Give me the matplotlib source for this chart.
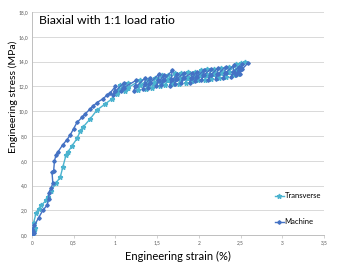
import matplotlib
matplotlib.use('Agg')
import matplotlib.pyplot as plt

plt.rcParams['font.family'] = ['Lato', 'DejaVu Sans']

# data (strain in %, stress in MPa)
machine_strain = [0.00, 0.01, 0.00, 0.02, 0.00, 0.03, 0.08, 0.13, 0.18, 0.20, 0.20, 0.23, 0.25,
                  0.24, 0.26, 0.27, 0.29, 0.31, 0.37, 0.42, 0.46, 0.50, 0.54, 0.60, 0.64, 0.70,
                  0.73, 0.78, 0.85, 0.90, 0.94,
                  1.00, 0.99, 0.97, 1.00, 1.10, 1.09, 1.07, 1.10, 1.25, 1.24, 1.22, 1.25,
                  1.36, 1.35, 1.33, 1.36, 1.42, 1.41, 1.39, 1.42, 1.52, 1.51, 1.49, 1.52,
                  1.58, 1.57, 1.55, 1.58, 1.68, 1.67, 1.65, 1.68, 1.74, 1.73, 1.71, 1.74,
                  1.82, 1.81, 1.79, 1.82, 1.92, 1.91, 1.89, 1.92, 1.98, 1.97, 1.95, 1.98,
                  2.06, 2.05, 2.03, 2.06, 2.14, 2.13, 2.11, 2.14, 2.23, 2.22, 2.20, 2.23,
                  2.32, 2.31, 2.29, 2.32, 2.42, 2.41, 2.39, 2.42, 2.48, 2.47, 2.45, 2.48,
                  2.52, 2.51, 2.49, 2.52, 2.59]
machine_stress = [0.0, 0.3, 0.5, 0.2, 0.4, 0.8, 1.4, 2.0, 2.4, 2.9, 3.4, 3.8, 4.2,
                  5.1, 5.2, 6.0, 6.5, 6.7, 7.3, 7.7, 8.1, 8.6, 9.1, 9.5, 9.8, 10.2,
                  10.4, 10.7, 11.0, 11.3, 11.5,
                  12.0, 11.6, 11.3, 11.6, 12.3, 11.9, 11.6, 11.9, 12.5, 12.0, 11.6, 12.0,
                  12.7, 12.2, 11.8, 12.2, 12.7, 12.3, 11.9, 12.3, 13.0, 12.5, 12.0, 12.4,
                  12.9, 12.5, 12.1, 12.5, 13.3, 12.6, 12.0, 12.5, 13.0, 12.6, 12.2, 12.6,
                  13.1, 12.7, 12.3, 12.7, 13.1, 12.7, 12.3, 12.7, 13.2, 12.8, 12.4, 12.8,
                  13.3, 12.9, 12.5, 12.9, 13.4, 12.9, 12.5, 12.9, 13.5, 13.0, 12.6, 13.0,
                  13.6, 13.1, 12.65, 13.1, 13.7, 13.2, 12.8, 13.2, 13.6, 13.2, 12.9, 13.3,
                  13.8, 13.4, 13.0, 13.4, 13.9]

transverse_strain = [0.00, 0.02, 0.04, 0.03, 0.01, 0.02, 0.05, 0.08, 0.11, 0.17, 0.19, 0.23, 0.29,
                     0.34, 0.37, 0.41, 0.43, 0.48, 0.54, 0.58, 0.61, 0.70, 0.78, 0.88, 0.96, 1.02,
                     1.05, 1.04, 1.02, 1.05, 1.15, 1.14, 1.12, 1.15, 1.30, 1.29, 1.27, 1.30,
                     1.40, 1.39, 1.37, 1.40, 1.47, 1.46, 1.44, 1.47, 1.56, 1.55, 1.53, 1.56,
                     1.63, 1.62, 1.60, 1.63, 1.72, 1.71, 1.69, 1.72, 1.79, 1.78, 1.76, 1.79,
                     1.87, 1.86, 1.84, 1.87, 1.95, 1.94, 1.92, 1.95, 2.02, 2.01, 1.99, 2.02,
                     2.10, 2.09, 2.07, 2.10, 2.18, 2.17, 2.15, 2.18, 2.27, 2.26, 2.24, 2.27,
                     2.36, 2.35, 2.33, 2.36, 2.45, 2.44, 2.42, 2.45, 2.50, 2.49, 2.47, 2.50,
                     2.55]
transverse_stress = [0.0, 0.4, 0.6, 0.3, 0.2, 1.0, 1.8, 2.1, 2.4, 2.8, 3.1, 3.6, 4.2,
                     4.7, 5.5, 6.5, 6.7, 7.2, 7.8, 8.4, 8.7, 9.4, 10.1, 10.6, 11.0, 11.5,
                     12.1, 11.7, 11.4, 11.7, 12.3, 11.9, 11.6, 11.9, 12.5, 12.1, 11.7, 12.1,
                     12.6, 12.2, 11.8, 12.2, 12.7, 12.3, 11.9, 12.3, 12.9, 12.4, 12.0, 12.4,
                     12.9, 12.5, 12.1, 12.5, 13.1, 12.6, 12.2, 12.6, 13.1, 12.6, 12.2, 12.6,
                     13.2, 12.7, 12.3, 12.7, 13.2, 12.8, 12.4, 12.8, 13.3, 12.9, 12.5, 12.9,
                     13.4, 12.9, 12.5, 12.9, 13.4, 13.0, 12.6, 13.0, 13.5, 13.1, 12.7, 13.1,
                     13.6, 13.2, 12.8, 13.2, 13.8, 13.3, 12.9, 13.3, 13.9, 13.4, 13.0, 13.5,
                     14.0]

x_ticks = [0, 0.5, 1, 1.5, 2, 2.5, 3, 3.5]
x_ticklabels = ['0', '0,5', '1', '1,5', '2', '2,5', '3', '3,5']
y_ticks = [0, 2, 4, 6, 8, 10, 12, 14, 16, 18]
y_ticklabels = ['0,0', '2,0', '4,0', '6,0', '8,0', '10,0', '12,0', '14,0', '16,0', '18,0']

fig = plt.figure(figsize=(3.4, 2.69), dpi=100)
ax = fig.add_axes([0.094, 0.126, 0.859, 0.829])

ax.plot(transverse_strain, transverse_stress, color='#4BB3CF', lw=1.0, marker='*',
        markersize=3.5, label='Transverse', zorder=3)
ax.plot(machine_strain, machine_stress, color='#4472C4', lw=1.0, marker='D',
        markersize=1.8, label='Machine', zorder=4)

ax.set_xlim(0, 3.5)
ax.set_ylim(0, 18)
ax.set_xticks(x_ticks)
ax.set_xticklabels(x_ticklabels)
ax.set_yticks(y_ticks)
ax.set_yticklabels(y_ticklabels)
ax.tick_params(axis='both', labelsize=3.5, colors='#595959')
ax.tick_params(axis='y', length=0, pad=3)
ax.tick_params(axis='x', length=2, width=0.5, color='#bfbfbf', pad=2)

ax.yaxis.grid(True, color='#d9d9d9', lw=0.7)
ax.set_axisbelow(True)
for side in ['top', 'right']:
    ax.spines[side].set_visible(False)
ax.spines['left'].set_color('#bfbfbf')
ax.spines['bottom'].set_color('#bfbfbf')
ax.spines['left'].set_linewidth(0.7)
ax.spines['bottom'].set_linewidth(0.7)

ax.set_xlabel('Engineering strain (%)', fontsize=8, color='#000000', labelpad=4)
ax.set_ylabel('Engineering stress (MPa)', fontsize=7.5, color='#000000')
ax.yaxis.set_label_coords(-0.048, 0.62)

ax.text(0.025, 0.985, 'Biaxial with 1:1 load ratio', transform=ax.transAxes,
        fontsize=8.8, va='top', ha='left')

ax.legend(loc='lower right', bbox_to_anchor=(1.0, 0.03), frameon=False, fontsize=5.5,
          handlelength=1.2, handletextpad=0.1, labelspacing=2.5, borderaxespad=0)

plt.savefig('out.png', dpi=100)
